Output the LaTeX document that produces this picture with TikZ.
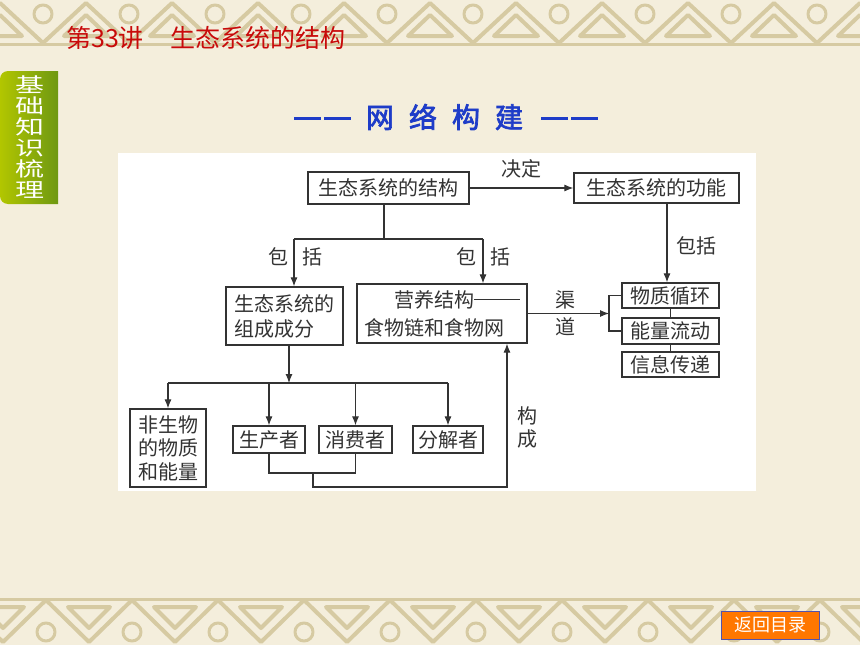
\documentclass[tikz,border=0pt]{standalone}
\usepackage{fontspec}
\setmainfont{Noto Sans CJK SC}
\newfontfamily\cjkbold[FakeBold=2.5]{Noto Sans CJK SC}
\usetikzlibrary{arrows.meta,calc}
\definecolor{fundo}{HTML}{F4EEDC}
\definecolor{borda}{HTML}{D6CAA2}
\definecolor{titulo}{HTML}{C80A0A}
\definecolor{azul}{HTML}{1E3CC8}
\definecolor{laranja}{HTML}{FF7700}
\definecolor{linha}{HTML}{333333}
\definecolor{verde1}{HTML}{B2C600}
\definecolor{verde2}{HTML}{6E9812}

\begin{document}
\begin{tikzpicture}[x=1pt,y=-1pt]
\tikzset{ >={Latex[length=9pt,width=7pt]},
  caixa/.style={draw=linha, line width=1.2pt, fill=white, inner sep=0pt, text=linha, font=\fontsize{20}{25}\selectfont},
  rotulo/.style={inner sep=0pt, text=linha, font=\fontsize{20}{24}\selectfont},
  seta/.style={draw=linha, line width=1.1pt},
  trama/.style={draw=borda, line width=4pt, line join=round},
}

%%% Fundo
\fill[fundo] (0,0) rectangle (860,645);
\useasboundingbox (0,0) rectangle (860,645);

% borda de cima
\draw[borda, line width=3pt] (0,44) -- (860,44);
\foreach \i in {0,...,10} {
  \draw[trama] (\i*86-43,43) -- (\i*86,3) -- (\i*86+43,43);
  \draw[trama] (\i*86-22,36) -- (\i*86,15) -- (\i*86+22,36) -- cycle;
  \draw[trama, line width=3pt] (\i*86+43,14) circle (9);
}

% borda de baixo
\draw[borda, line width=3pt] (0,599) -- (860,599);
\foreach \i in {0,...,10} {
  \draw[trama] (\i*86-40,600) -- (\i*86+3,642) -- (\i*86+46,600);
  \draw[trama] (\i*86-18,607) -- (\i*86+3,628) -- (\i*86+24,607) -- cycle;
  \draw[trama, line width=3pt] (\i*86+46,632) circle (9);
}

%%% Titulo
\node[anchor=west, inner sep=0pt, text=titulo, font=\fontsize{25}{28}\selectfont] (titulo) at (66,38) {第33讲\hspace{27pt}生态系统的结构};

% aba verde
\shade[left color=verde1, right color=verde2] (58,71) [rounded corners=8pt] -- (0,71) -- (0,204) [sharp corners] -- (58,204) -- cycle;
\foreach \c [count=\k] in {基,础,知,识,梳,理}
  \node[inner sep=0pt, text=white, font=\fontsize{20}{22}\selectfont] (aba\k) at (30,64+21*\k) {\scalebox{1.45}[1]{\c}};

% cabecalho
\node[inner sep=0pt, text=azul, font=\cjkbold\fontsize{28}{30}\selectfont] (rede) at (446,117)
  {\rule[8pt]{27pt}{3pt}\hspace{3pt}\rule[8pt]{27pt}{3pt}\hspace{15pt}网\hspace{15pt}络\hspace{15pt}构\hspace{15pt}建\hspace{18pt}\rule[8pt]{27pt}{3pt}\hspace{3pt}\rule[8pt]{27pt}{3pt}};

% painel
\fill[white] (118,153) rectangle (756,491);

%%% Blocos
\node[caixa, minimum width=161, minimum height=32] (JG) at (388.5,188) {生态系统的结构};
\node[caixa, minimum width=165, minimum height=30] (GN) at (656.5,188) {生态系统的功能};
\node[caixa, minimum width=117, minimum height=58, align=left] (ZC) at (284.5,316) {生态系统的\\组成成分};
\node[caixa, minimum width=170, minimum height=59, align=left, font=\fontsize{20}{28}\selectfont] (YY) at (442,313.5)
  {\hspace*{30pt}营养结构\rule[7pt]{46pt}{0.8pt}\\食物链和食物网};
\node[caixa, minimum width=97, minimum height=25] (WZ) at (670.5,295.5) {物质循环};
\node[caixa, minimum width=97, minimum height=26] (NL) at (670.5,331) {能量流动};
\node[caixa, minimum width=97, minimum height=25] (XX) at (670.5,364.5) {信息传递};
\node[caixa, minimum width=76, minimum height=78, align=left, font=\fontsize{20}{23.5}\selectfont] (FS) at (168,448) {非生物\\的物质\\和能量};
\node[caixa, minimum width=72, minimum height=27] (SC) at (269,439.5) {生产者};
\node[caixa, minimum width=73, minimum height=27] (XF) at (355.5,439.5) {消费者};
\node[caixa, minimum width=70, minimum height=27] (FJ) at (448,439.5) {分解者};

%%% Linhas

% estrutura -> funcao
\draw[seta,->] (JG) -- (GN);
\node[rotulo] (jueding) at (521,169) {决定};

% estrutura -> componentes / nutricao
\coordinate (R0) at (384,239);
\coordinate (RL) at (294,239);
\coordinate (RR) at (483,239);
\draw[seta] (JG.south -| R0) -- (R0);
\draw[seta] (RL) -- (RR);
\draw[seta,->] (RL) -- (RL |- ZC.north);
\draw[seta,->] (RR) -- (RR |- YY.north);
\node[rotulo] (bao1) at (278,257) {包};
\node[rotulo] (kuo1) at (312,257) {括};
\node[rotulo] (bao2) at (466,257) {包};
\node[rotulo] (kuo2) at (500,257) {括};

% funcao -> tres funcoes
\coordinate (G1) at ($(GN.south)+(10.5,0)$);
\draw[seta,->] (G1) -- (G1 |- WZ.north);
\node[rotulo] (baokuo) at (696,246) {包括};
\draw[seta] (WZ.south) -- (NL.north);
\draw[seta] (NL.south) -- (XX.north);

% nutricao -> canal
\coordinate (CH) at (609,313.5);
\draw[seta,->] (YY.east) -- (CH);
\draw[seta] (WZ.west) -| (CH) |- (NL.west);
\node[rotulo] (qu) at (565,300) {渠};
\node[rotulo] (dao) at (565,327) {道};

% componentes -> quatro
\coordinate (D0) at (289,383);
\coordinate (DL) at (168,383);
\coordinate (DR) at (448,383);
\draw[seta,->] (ZC.south -| D0) -- (D0);
\draw[seta] (DL) -- (DR);
\draw[seta,->] (DL) -- (FS.north);
\draw[seta,->] (SC.north |- DL) -- (SC.north);
\draw[seta,->] (XF.north |- DL) -- (XF.north);
\draw[seta,->] (DR) -- (FJ.north);

% produtor + consumidor -> nutricao
\coordinate (C0) at (313,473);
\coordinate (C1) at (507,487);
\draw[seta] (SC.south) |- (C0) -| (XF.south);
\draw[seta,->] (C0) |- (C1) -- (C1 |- YY.south);
\node[rotulo] (gou) at (527,416) {构};
\node[rotulo] (cheng) at (527,439) {成};

% botao
\node[fill=laranja, draw=blue!35!gray, line width=0.6pt, minimum width=98, minimum height=28, inner sep=0pt, text=white, font=\fontsize{18}{20}\selectfont] (voltar) at (770,625) {返回目录};

\end{tikzpicture}
\end{document}
